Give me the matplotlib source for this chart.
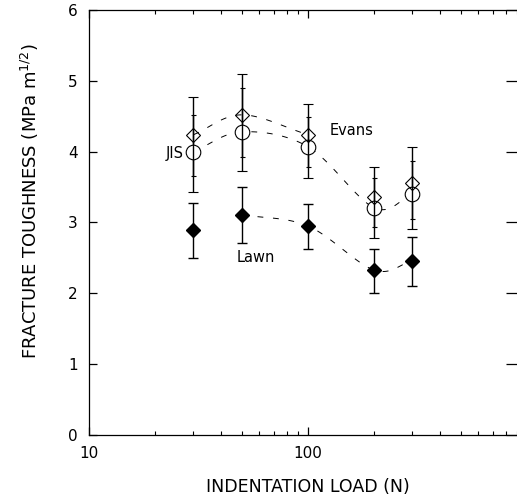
import numpy as np
import matplotlib as mpl
mpl.use("Agg")
import matplotlib.pyplot as plt

mpl.rcParams.update({
    "font.family": ["DejaVu Sans"],
    "mathtext.default": "regular",
    "axes.linewidth": 0.9,
})

# Data
load = [30, 50, 100, 200, 300]

jis = [4.00, 4.28, 4.07, 3.21, 3.40]
jis_lo = [3.43, 3.73, 3.63, 2.78, 2.91]
jis_hi = [4.77, 5.10, 4.68, 3.79, 4.07]

evans = [4.24, 4.52, 4.24, 3.36, 3.56]
evans_lo = [3.66, 3.93, 3.79, 2.94, 3.05]
evans_hi = [4.52, 4.90, 4.49, 3.63, 3.87]

lawn = [2.90, 3.11, 2.95, 2.33, 2.46]
lawn_lo = [2.50, 2.71, 2.63, 2.01, 2.10]
lawn_hi = [3.28, 3.50, 3.26, 2.63, 2.80]


def yerr(v, lo, hi):
    v, lo, hi = np.array(v), np.array(lo), np.array(hi)
    return [v - lo, hi - v]


def guide(xs, ys, n=30):
    # catmull-rom guide curve in log-x space
    px = np.log10(np.array(xs, float))
    py = np.array(ys, float)
    px = np.r_[2 * px[0] - px[1], px, 2 * px[-1] - px[-2]]
    py = np.r_[2 * py[0] - py[1], py, 2 * py[-1] - py[-2]]
    t = np.linspace(0, 1, n)
    cx, cy = [], []
    for i in range(1, len(px) - 2):
        for p, out in ((px, cx), (py, cy)):
            p0, p1, p2, p3 = p[i - 1:i + 3]
            out.extend(0.5 * (2 * p1 + (-p0 + p2) * t
                              + (2 * p0 - 5 * p1 + 4 * p2 - p3) * t ** 2
                              + (-p0 + 3 * p1 - 3 * p2 + p3) * t ** 3))
    return 10 ** np.array(cx), np.array(cy)


fig = plt.figure(figsize=(5.17, 4.97), dpi=100)
ax = fig.add_axes([89 / 517, 62 / 497, 438 / 517, 425 / 497])

dash = dict(color="black", lw=0.7, linestyle=(0, (6, 10)))
ax.plot(*guide(load[:3], evans[:3]), **dash)
ax.plot(*guide(load, jis), **dash)
ax.plot(*guide(load[1:], lawn[1:]), **dash)

ax.errorbar(load, jis, yerr=yerr(jis, jis_lo, jis_hi), fmt="o", ms=10.5,
            mfc="white", mec="black", mew=0.8, ecolor="black", elinewidth=1.0,
            capsize=3.5, capthick=1.0, zorder=3)
ax.errorbar(load, evans, yerr=yerr(evans, evans_lo, evans_hi), fmt="D", ms=7.5,
            mfc="none", mec="black", mew=0.8, ecolor="black", elinewidth=1.0,
            capsize=1.8, capthick=0.8, zorder=4)
ax.errorbar(load, lawn, yerr=yerr(lawn, lawn_lo, lawn_hi), fmt="D", ms=7,
            mfc="black", mec="black", ecolor="black", elinewidth=1.0,
            capsize=3.5, capthick=1.0, zorder=3)

ax.text(27, 3.98, "JIS", fontsize=10.5, ha="right", va="center")
ax.text(126, 4.3, "Evans", fontsize=10.5, ha="left", va="center")
ax.text(58, 2.5, "Lawn", fontsize=10.5, ha="center", va="center")

ax.set_xscale("log")
ax.set_xlim(10, 1000)
ax.set_ylim(0, 6)
ax.set_yticks(range(7))
ax.set_xticks([10, 100, 1000])
ax.set_xticklabels(["10", "100", ""])
ax.xaxis.set_minor_formatter(mpl.ticker.NullFormatter())
ax.tick_params(which="both", direction="in", top=True, labelsize=11)
ax.tick_params(which="major", length=6, width=0.9)
ax.tick_params(which="minor", length=3, width=0.8)
ax.tick_params(axis="x", pad=8)
ax.tick_params(axis="y", pad=8)
ax.spines["right"].set_visible(False)

# right-hand tick marks peeking in at the cropped edge
ax2 = ax.twinx()
ax2.set_ylim(0, 6)
ax2.set_yticks(range(7))
ax2.tick_params(direction="in", length=15, width=0.9, labelright=False)
for s in ax2.spines.values():
    s.set_visible(False)

ax.set_xlabel("INDENTATION LOAD (N)", fontsize=12.5, labelpad=12)
ax.set_ylabel("FRACTURE TOUGHNESS (MPa m$^{1/2}$)", fontsize=13)
ax.yaxis.set_label_coords(-0.11, 0.55)

fig.savefig("out.png", dpi=100)
